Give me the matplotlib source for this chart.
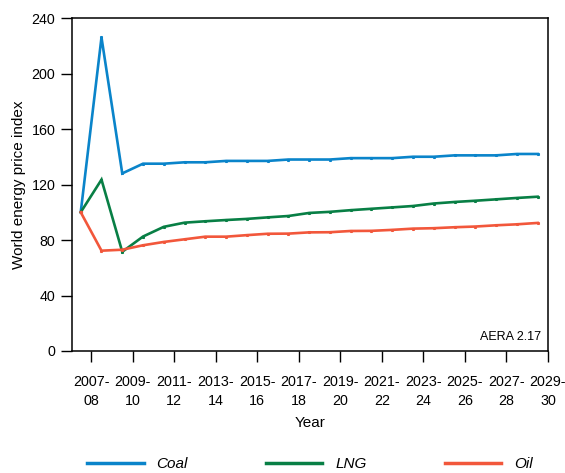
import matplotlib
matplotlib.use("Agg")
import matplotlib.pyplot as plt
from matplotlib.lines import Line2D

plt.rcParams['font.family'] = ['Liberation Sans', 'DejaVu Sans']

years = ["2007-\n08", "2009-\n10", "2011-\n12", "2013-\n14", "2015-\n16", "2017-\n18",
         "2019-\n20", "2021-\n22", "2023-\n24", "2025-\n26", "2027-\n28", "2029-\n30"]

coal = [100, 226, 128, 135, 135, 136, 136, 137, 137, 137, 138, 138,
        138, 139, 139, 139, 140, 140, 141, 141, 141, 142, 142]
lng = [100, 123.5, 71.5, 82.5, 89.5, 92.5, 93.5, 94.4, 95.2, 96.3, 97.3, 99.5,
       100.3, 101.5, 102.5, 103.5, 104.5, 106.3, 107.4, 108.3, 109.3, 110.3, 111.2]
oil = [100, 72.3, 73, 76.2, 78.6, 80.5, 82.4, 82.4, 83.5, 84.5, 84.6, 85.5,
       85.6, 86.5, 86.6, 87.3, 88.2, 88.5, 89.2, 89.7, 90.6, 91.3, 92.3]

colors = {"Coal": "#0A84CA", "LNG": "#087F45", "Oil": "#F2573B"}

fig = plt.figure(figsize=(5.65, 4.73), dpi=100)
ax = fig.add_axes([72 / 565, 1 - 351 / 473, (548 - 72) / 565, (351 - 18) / 473])

x = list(range(len(coal)))
for name, vals in [("Coal", coal), ("LNG", lng), ("Oil", oil)]:
    ax.plot(x, vals, color=colors[name], lw=1.9, marker="s", ms=1.2,
            solid_joinstyle="miter")

ax.set_xlim(-0.42, 22.5)
ax.set_ylim(0, 240)
ax.set_yticks(range(0, 241, 40))
ax.set_xticks([i * 2 + 0.5 for i in range(len(years))])
ax.set_xticklabels(years, fontsize=10.3, linespacing=1.45)
ax.tick_params(axis="both", direction="out", length=8, width=1, labelsize=10.3)
ax.tick_params(axis="y", pad=4)
ax.tick_params(axis="x", pad=9)
for s in ax.spines.values():
    s.set_linewidth(1.1)

ax.set_xlabel("Year", fontsize=11, labelpad=6)
ax.set_ylabel("World energy price index", fontsize=11, labelpad=4)

ax.text(0.985, 0.025, "AERA 2.17", transform=ax.transAxes, ha="right", va="bottom",
        fontsize=9)

handles = [Line2D([], [], color=colors[n], lw=2.5) for n in colors]
leg = fig.legend(handles, list(colors), loc="center", ncol=3, frameon=False,
                 bbox_to_anchor=(310 / 565, 1 - 464 / 473),
                 handlelength=3.7, handletextpad=0.85, columnspacing=5.1,
                 prop={"style": "italic", "size": 11})

fig.savefig("out.png", dpi=100)
